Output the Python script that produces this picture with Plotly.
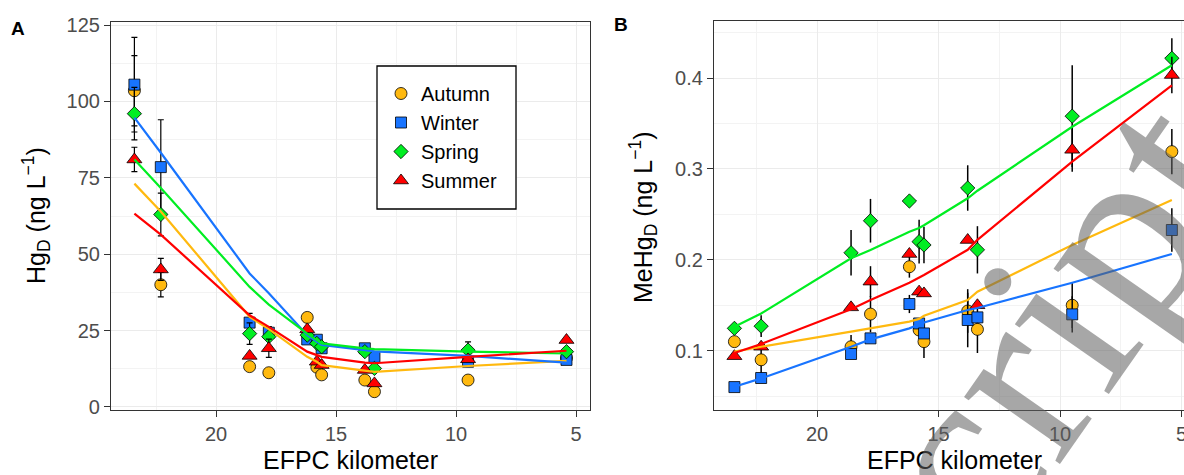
import plotly.graph_objects as go

W, H = 1184, 475

# ---------------- data ----------------
km = [23.4, 22.3, 18.6, 17.8, 16.2, 15.8, 15.6, 13.8, 13.4, 9.5, 5.4]
seasons = ["Autumn", "Winter", "Spring", "Summer"]

# Panel A: dissolved Hg (ng/L)
hg_autumn = [103.5, 40.0, 13.2, 11.2, 29.3, 13.0, 10.5, 8.8, 5.0, 8.8, 16.0]
hg_winter = [105.5, 78.5, 27.6, 24.3, 22.1, 22.0, 19.2, 19.2, 16.4, 14.8, 15.4]
hg_spring = [96.0, 63.0, 24.0, 23.0, 23.5, 20.8, 19.7, 18.1, 12.6, 18.6, 18.1]
hg_summer = [81.0, 45.0, 16.7, 19.2, 25.4, 14.8, 13.7, 12.1, 7.7, 15.6, 21.9]

hg_err_autumn = [11.5, 4.0, 0, 0, 0, 0, 0, 0, 0, 0, 0]
hg_err_winter = [15.5, 15.5, 3.0, 2.0, 0, 0, 0, 0, 0, 0, 0]
hg_err_spring = [8.6, 7.0, 3.5, 0, 0, 0, 0, 0, 0, 2.7, 0]
hg_err_summer = [4.0, 3.6, 0, 3.0, 0, 0, 0, 0, 0, 0, 0]

hg_fit_autumn = [73.1, 64.0, 29.5, 25.5, 16.4, 14.8, 13.7, 12.1, 11.5, 13.4, 15.1]
hg_fit_winter = [94.7, 83.2, 43.7, 37.2, 23.5, 21.5, 20.3, 18.6, 18.2, 16.7, 14.5]
hg_fit_spring = [81.0, 71.7, 39.3, 33.5, 24.0, 21.8, 20.8, 19.2, 18.9, 18.1, 17.5]
hg_fit_summer = [63.3, 56.4, 30.0, 26.2, 18.1, 17.0, 16.4, 14.5, 14.3, 16.4, 18.4]

# Panel B: dissolved MeHg (ng/L)
me_autumn = [0.110, 0.090, 0.1044, 0.1403, 0.1924, 0.1228, 0.110, 0.1437, 0.1235, 0.150, 0.319]
me_winter = [0.060, 0.070, 0.0964, 0.1136, 0.1514, 0.130, 0.119, 0.1338, 0.1367, 0.140, 0.2328]
me_spring = [0.1246, 0.127, 0.2078, 0.243, 0.2647, 0.220, 0.2163, 0.279, 0.211, 0.358, 0.4217]
me_summer = [0.094, 0.1044, 0.1477, 0.176, 0.2064, 0.165, 0.163, 0.2218, 0.150, 0.321, 0.4033]

me_err_autumn = [0, 0.015, 0.013, 0.020, 0.012, 0, 0.018, 0.024, 0.026, 0.025, 0.025]
me_err_winter = [0, 0, 0, 0, 0.010, 0, 0, 0.030, 0, 0.020, 0.024]
me_err_spring = [0, 0.012, 0.025, 0.024, 0, 0.024, 0.020, 0.025, 0.026, 0.056, 0.022]
me_err_summer = [0, 0, 0, 0.017, 0, 0, 0, 0, 0, 0.024, 0.020]

me_fit_autumn = [0.099, 0.1044, 0.121, 0.1246, 0.132, 0.135, 0.1385, 0.1557, 0.165, 0.2163, 0.2658]
me_fit_winter = [0.0604, 0.0696, 0.1044, 0.1125, 0.1246, 0.129, 0.131, 0.1448, 0.147, 0.1748, 0.2064]
me_fit_spring = [0.1265, 0.141, 0.2017, 0.2108, 0.231, 0.235, 0.238, 0.2677, 0.276, 0.3464, 0.414]
me_fit_summer = [0.0975, 0.1074, 0.1455, 0.1558, 0.1748, 0.180, 0.1833, 0.211, 0.222, 0.308, 0.392]

x_ticks = [20, 15, 10, 5]

# ---------------- style ----------------
colors = {"Autumn": "#FFB90F", "Winter": "#1874FF", "Spring": "#00EE22", "Summer": "#FF0000"}
symbols = {"Autumn": "circle", "Winter": "square", "Spring": "diamond", "Summer": "triangle-up"}
msize = {"Autumn": 12, "Winter": 11, "Spring": 11, "Summer": 13}
FONT = "Liberation Sans, Arial, sans-serif"

hg_pts = {"Autumn": hg_autumn, "Winter": hg_winter, "Spring": hg_spring, "Summer": hg_summer}
hg_err = {"Autumn": hg_err_autumn, "Winter": hg_err_winter, "Spring": hg_err_spring, "Summer": hg_err_summer}
hg_fit = {"Autumn": hg_fit_autumn, "Winter": hg_fit_winter, "Spring": hg_fit_spring, "Summer": hg_fit_summer}
me_pts = {"Autumn": me_autumn, "Winter": me_winter, "Spring": me_spring, "Summer": me_summer}
me_err = {"Autumn": me_err_autumn, "Winter": me_err_winter, "Spring": me_err_spring, "Summer": me_err_summer}
me_fit = {"Autumn": me_fit_autumn, "Winter": me_fit_winter, "Spring": me_fit_spring, "Summer": me_fit_summer}

fig = go.Figure()

# points (with error bars) first, fitted lines drawn on top
for s in seasons:
    fig.add_trace(go.Scatter(
        x=km, y=hg_pts[s], mode="markers", name=s,
        xaxis="x", yaxis="y",
        marker=dict(symbol=symbols[s], size=msize[s], color=colors[s],
                    line=dict(color="black", width=0.8)),
        error_y=dict(type="data", array=hg_err[s], visible=True,
                     color="black", thickness=1.2, width=3),
    ))
for s in seasons:
    fig.add_trace(go.Scatter(
        x=km, y=me_pts[s], mode="markers", name=s, showlegend=False,
        xaxis="x2", yaxis="y2",
        marker=dict(symbol=symbols[s], size=msize[s], color=colors[s],
                    line=dict(color="black", width=0.8)),
        error_y=dict(type="data", array=me_err[s], visible=True,
                     color="black", thickness=1.5, width=0),
    ))
for s in seasons:
    fig.add_trace(go.Scatter(
        x=km, y=hg_fit[s], mode="lines", showlegend=False, xaxis="x", yaxis="y",
        line=dict(color=colors[s], width=2.2), hoverinfo="skip"))
    fig.add_trace(go.Scatter(
        x=km, y=me_fit[s], mode="lines", showlegend=False, xaxis="x2", yaxis="y2",
        line=dict(color=colors[s], width=2.2), hoverinfo="skip"))

def px(x):
    return x / W

def py(y):
    return 1 - y / H

axis_common = dict(
    showline=True, linecolor="#333333", linewidth=1.2,
    ticks="outside", ticklen=6, tickwidth=1.3, tickcolor="#333333",
    tickfont=dict(family=FONT, size=20, color="#4D4D4D"),
    showgrid=True, gridcolor="#EBEBEB", gridwidth=1.3,
    zeroline=False, automargin=False, ticklabeloverflow="allow",
)
minor_x = dict(dtick=2.5, tick0=0, showgrid=True, gridcolor="#F3F3F3", gridwidth=0.8, ticks="")

fig.update_layout(
    width=W, height=H, margin=dict(l=0, r=0, t=0, b=0, pad=0, autoexpand=False),
    paper_bgcolor="white", plot_bgcolor="white",
    font=dict(family=FONT),
    xaxis=dict(domain=[px(111), px(590)], range=[24.375, 4.42], anchor="y",
               tickmode="array", tickvals=x_ticks, mirror=True, minor=minor_x,
               **axis_common),
    yaxis=dict(domain=[py(410), py(22)], range=[-1.0, 126.0], anchor="x",
               tick0=0, dtick=25, mirror=True,
               minor=dict(dtick=12.5, tick0=0, showgrid=True, gridcolor="#F3F3F3", gridwidth=0.8, ticks=""),
               **axis_common),
    xaxis2=dict(domain=[px(714), 1.0], range=[24.24, 4.90], anchor="y2",
                tickmode="array", tickvals=x_ticks, mirror=True, minor=minor_x,
                **axis_common),
    yaxis2=dict(domain=[py(410), py(21)], range=[0.0348, 0.4627], anchor="x2",
                tick0=0, dtick=0.1, tickformat=".1f", mirror=False,
                minor=dict(dtick=0.05, tick0=0, showgrid=True, gridcolor="#F3F3F3", gridwidth=0.8, ticks=""),
                **axis_common),
    legend=dict(x=px(381), y=py(74), xanchor="left", yanchor="top",
                borderwidth=0, bgcolor="rgba(0,0,0,0)",
                font=dict(family=FONT, size=20, color="black"),
                tracegroupgap=0, itemsizing="trace"),
    showlegend=True,
    shapes=[dict(type="rect", xref="paper", yref="paper",
                 x0=px(377), x1=px(516), y0=py(209), y1=py(66),
                 line=dict(color="black", width=1.3), fillcolor="white", layer="above")],
)

annotations = [
    dict(text="<b>A</b>", x=px(18), y=py(28), font=dict(size=19, color="black")),
    dict(text="<b>B</b>", x=px(621), y=py(25), font=dict(size=19, color="black")),
    dict(text="EFPC kilometer", x=px(350), y=py(460), font=dict(size=25, color="black")),
    dict(text="EFPC kilometer", x=px(954), y=py(460), font=dict(size=25, color="black")),
    dict(text="Hg<sub>D</sub> (ng L<sup>\u22121</sup>)", x=px(36), y=py(216), textangle=-90,
         font=dict(size=25, color="black")),
    dict(text="MeHg<sub>D</sub> (ng L<sup>\u22121</sup>)", x=px(643), y=py(217), textangle=-90,
         font=dict(size=25, color="black")),
    # manuscript watermark
    dict(text="script", x=px(1027), y=py(361), textangle=-55,
         font=dict(family="Liberation Serif, Times New Roman, serif", size=255,
                   color="rgba(95,95,95,0.55)")),
]
for a in annotations:
    a.update(xref="paper", yref="paper", showarrow=False, xanchor="center", yanchor="middle")
    a["font"].setdefault("family", FONT)
fig.update_layout(annotations=annotations)

fig.write_html("out.html")
